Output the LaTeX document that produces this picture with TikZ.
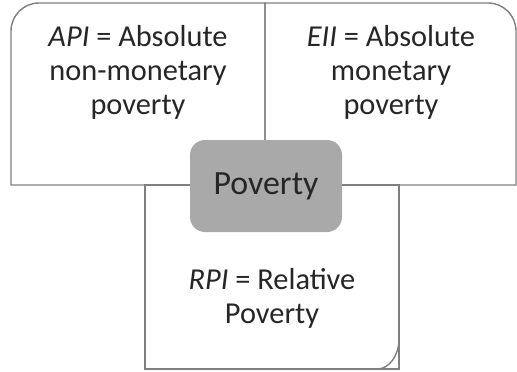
\documentclass[tikz,border=0pt]{standalone}
\usepackage{fontspec}
\setmainfont{Carlito}
\definecolor{framegray}{HTML}{7F7F7F}
\definecolor{corefill}{HTML}{A9A9A9}
\definecolor{inkgray}{HTML}{262626}
\begin{document}
\begin{tikzpicture}[x=1bp,y=-1bp,
  frame/.style={draw=framegray,line width=1.4bp},
  label/.style={text=inkgray,align=center,inner sep=0pt,
    font=\fontsize{30.5}{34}\selectfont},
  core/.style={fill=corefill,rounded corners=15bp,text=inkgray,
    font=\fontsize{34}{40}\selectfont}]
\useasboundingbox (0,0) rectangle (517,371);
% top-left quadrant: absolute non-monetary
\draw[frame] (265,185) -- (11,185) -- (11,31) arc[start angle=180,end angle=270,radius=28] -- (265,3) -- cycle;
% top-right quadrant: absolute monetary
\draw[frame] (265,185) -- (265,3) -- (488,3) arc[start angle=270,end angle=360,radius=28] -- (516,185) -- cycle;
% lower box: relative
\draw[frame] (145,185) rectangle (399,369);
\draw[frame] (377,369) arc[start angle=90,end angle=0,x radius=22,y radius=30];
% central core
\node[core,minimum width=152bp,minimum height=92bp] (pov) at (266,186) {Poverty};
% quadrant texts (base = baseline of the last line)
\node[label,anchor=base] (api) at (138,114) {\textit{API} = Absolute\\non-monetary\\poverty};
\node[label,anchor=base] (eii) at (391,114) {\textit{EII} = Absolute\\monetary\\poverty};
\node[label,anchor=base] (rpi) at (272,323) {\textit{RPI} = Relative\\Poverty};
\end{tikzpicture}
\end{document}
